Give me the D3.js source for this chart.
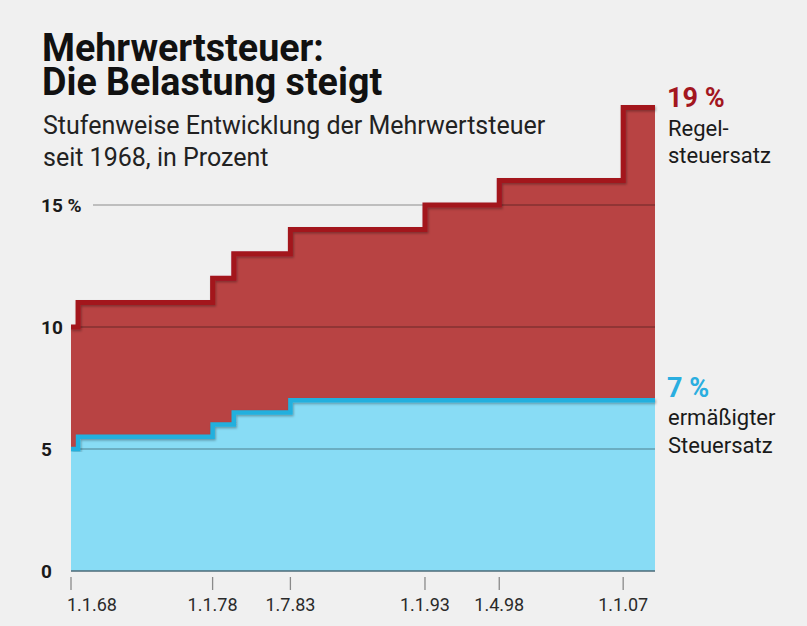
<!DOCTYPE html>
<html><head><meta charset="utf-8">
<script src="https://cdn.jsdelivr.net/npm/d3@7"></script>
<style>
html,body{margin:0;padding:0;background:#f0f0f0;}
svg{display:block;font-family:Roboto,"Noto Sans",sans-serif;}
</style></head>
<body>
<svg id="chart" width="807" height="626"></svg>
<script>
// Dates of changes (ISO) and rates in percent
const changeDates = ["1968-01-01","1968-07-01","1978-01-01","1979-07-01","1983-07-01","1993-01-01","1998-04-01","2007-01-01","2009-04-01"];
const regelSatz   = [10, 11, 12, 13, 14, 15, 16, 19, 19];
const ermSatz     = [5, 5.5, 6, 6.5, 7, 7, 7, 7, 7];
const tickDates   = ["1968-01-01","1978-01-01","1983-07-01","1993-01-01","1998-04-01","2007-01-01"];
const tickLabels  = ["1.1.68","1.1.78","1.7.83","1.1.93","1.4.98","1.1.07"];
const yTicks      = [0, 5, 10, 15];
const yTickLabels = ["0","5","10","15 %"];
const titleLines  = ["Mehrwertsteuer:","Die Belastung steigt"];
const subLines    = ["Stufenweise Entwicklung der Mehrwertsteuer","seit 1968, in Prozent"];

const parse = d3.utcParse("%Y-%m-%d");
const data = changeDates.map((d,i)=>({date:parse(d), r:regelSatz[i], e:ermSatz[i]}));

const svg = d3.select("#chart");
svg.append("rect").attr("width",807).attr("height",626).attr("fill","#f0f0f0");

const x = d3.scaleUtc().domain([parse(changeDates[0]), parse(changeDates[changeDates.length-1])]).range([71,655]);
const y = d3.scaleLinear().domain([0,15]).range([571,205]);

const defs = svg.append("defs");
const f = defs.append("filter").attr("id","sh").attr("x","-5%").attr("y","-5%").attr("width","110%").attr("height","110%");
f.append("feDropShadow").attr("dx",1).attr("dy",1.5).attr("stdDeviation",1).attr("flood-color","#000").attr("flood-opacity",0.3);

const areaR = d3.area().curve(d3.curveStepAfter).x(d=>x(d.date)).y0(y(0)).y1(d=>y(d.r));
const areaE = d3.area().curve(d3.curveStepAfter).x(d=>x(d.date)).y0(y(0)).y1(d=>y(d.e));
const lineR = d3.line().curve(d3.curveStepAfter).x(d=>x(d.date)).y(d=>y(d.r));
const lineE = d3.line().curve(d3.curveStepAfter).x(d=>x(d.date)).y(d=>y(d.e));

svg.append("path").datum(data).attr("d",areaR).attr("fill","#b84343");
svg.append("path").datum(data).attr("d",areaE).attr("fill","#88dcf5");

// gridlines
const grid = svg.append("g");
yTicks.filter(v=>v>0).forEach(v=>{
  grid.append("line").attr("x1", v===15?93:71).attr("x2",655)
    .attr("y1",y(v)).attr("y2",y(v))
    .attr("stroke","rgba(0,0,0,0.28)").attr("stroke-width",1.3);
});
// zero line
svg.append("line").attr("x1",71).attr("x2",655).attr("y1",y(0)).attr("y2",y(0))
  .attr("stroke","#4d6b78").attr("stroke-width",1.5);

svg.append("path").datum(data).attr("d",lineE).attr("fill","none")
  .attr("stroke","#20b0de").attr("stroke-width",4.5).attr("filter","url(#sh)");
svg.append("path").datum(data).attr("d",lineR).attr("fill","none")
  .attr("stroke","#a3161f").attr("stroke-width",5).attr("filter","url(#sh)");

// y labels
const yl = svg.append("g");
yTicks.forEach((v,i)=>{
  yl.append("text").attr("x",41).attr("y",y(v)+7)
    .attr("font-size",19).attr("font-weight",700).attr("fill","#1a1a1a")
    .text(yTickLabels[i]);
});

// x axis ticks
const xa = svg.append("g");
tickDates.forEach((d,i)=>{
  const px = x(parse(d));
  xa.append("line").attr("x1",px).attr("x2",px).attr("y1",577).attr("y2",590)
    .attr("stroke","#8a8a8a").attr("stroke-width",1.3);
  xa.append("text").attr("x", i===0? px-4 : px).attr("y",611)
    .attr("text-anchor", i===0? "start":"middle")
    .attr("font-size",18).attr("fill","#2a2a2a").text(tickLabels[i]);
});

// title (one text block, two lines)
const tt = svg.append("text").attr("transform","translate(42,0) scale(0.965,1)")
  .attr("font-size",39).attr("font-weight",700).attr("fill","#111");
tt.append("tspan").attr("x",0).attr("y",61).text(titleLines[0]);
tt.append("tspan").attr("x",0).attr("y",95).text(titleLines[1]);

const st = svg.append("text").attr("font-size",25).attr("fill","#222");
st.append("tspan").attr("x",43).attr("y",134).text(subLines[0]);
st.append("tspan").attr("x",43).attr("y",166).text(subLines[1]);

// right labels
svg.append("text").attr("x",667).attr("y",107).attr("font-size",27).attr("font-weight",700)
  .attr("fill","#a3161f").text(regelSatz[regelSatz.length-1] + " %");
const rl = svg.append("text").attr("font-size",22).attr("fill","#1a1a1a");
rl.append("tspan").attr("x",668).attr("y",136).text("Regel-");
rl.append("tspan").attr("x",668).attr("y",163).text("steuersatz");
svg.append("text").attr("x",667).attr("y",397).attr("font-size",27).attr("font-weight",700)
  .attr("fill","#2aaee0").text(ermSatz[ermSatz.length-1] + " %");
const el = svg.append("text").attr("font-size",22).attr("fill","#1a1a1a");
el.append("tspan").attr("x",668).attr("y",425).text("ermäßigter");
el.append("tspan").attr("x",668).attr("y",453).text("Steuersatz");
</script>
</body></html>
